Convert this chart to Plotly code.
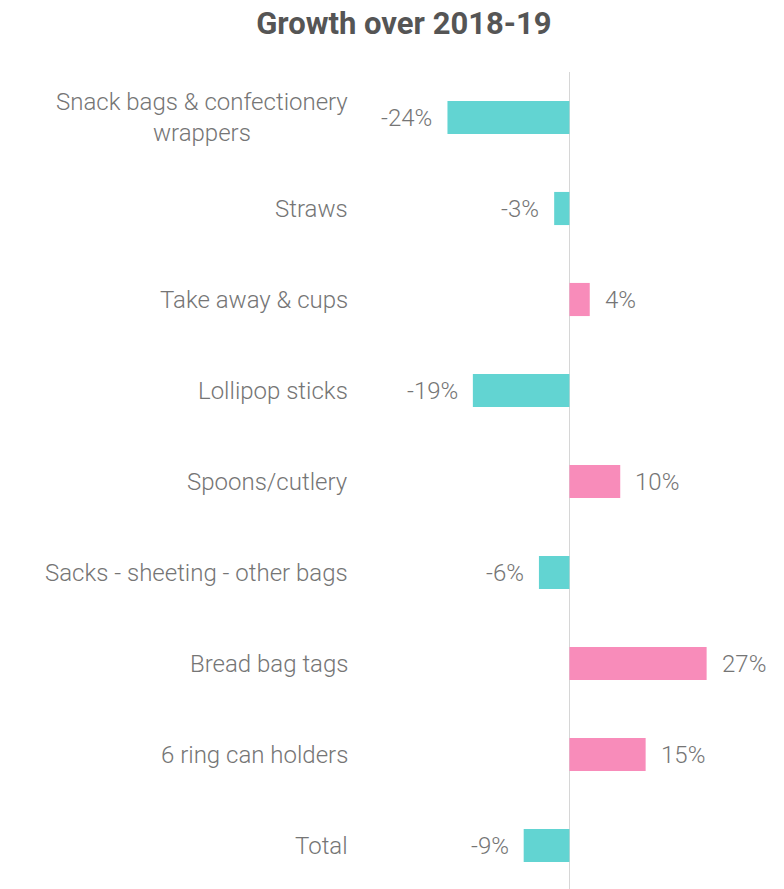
import plotly.graph_objects as go

# Categories top to bottom and their growth (%)
categories = [
    "Snack bags & confectionery<br>wrappers",
    "Straws",
    "Take away & cups",
    "Lollipop sticks",
    "Spoons/cutlery",
    "Sacks - sheeting - other bags",
    "Bread bag tags",
    "6 ring can holders",
    "Total",
]
growth = [-24, -3, 4, -19, 10, -6, 27, 15, -9]

teal = "#62d4d2"
pink = "#f88cba"
text_grey = "#757575"
font_family = "Roboto, 'Open Sans', sans-serif"

bar_colors = [pink if g > 0 else teal for g in growth]

fig = go.Figure(go.Bar(
    y=categories,
    x=growth,
    orientation="h",
    marker=dict(color=bar_colors, line=dict(width=0)),
    hoverinfo="skip",
))

label_font = dict(size=24, color=text_grey, family=font_family, weight=300)

# value labels just outside each bar
annotations = []
for cat, g in zip(categories, growth):
    annotations.append(dict(
        x=g, y=cat, xref="x", yref="y",
        text=f"{g}%",
        showarrow=False,
        xanchor="left" if g > 0 else "right",
        xshift=13 if g > 0 else -13,
        font=label_font,
    ))

# category labels, centred lines, right edge near the plot
for cat in categories:
    annotations.append(dict(
        x=0, y=cat, xref="paper", yref="y",
        text=cat,
        showarrow=False,
        xanchor="right",
        align="center",
        xshift=-7,
        font=label_font,
    ))

fig.update_layout(
    width=784,
    height=889,
    margin=dict(l=349, r=0, t=64, b=6),
    paper_bgcolor="white",
    plot_bgcolor="white",
    bargap=0.636,
    showlegend=False,
    title=dict(
        text="<b>Growth over 2018-19</b>",
        x=0.505, xanchor="center",
        y=1, yanchor="top",
        pad=dict(t=4),
        font=dict(size=31, color="#555555", family=font_family),
    ),
    xaxis=dict(
        range=[-41.8, 43.8],
        showgrid=False,
        showticklabels=False,
        zeroline=True,
        zerolinecolor="#d6d6d6",
        zerolinewidth=1,
        fixedrange=True,
    ),
    yaxis=dict(
        autorange="reversed",
        showticklabels=False,
        showgrid=False,
        zeroline=False,
        fixedrange=True,
    ),
    annotations=annotations,
)

fig.write_html("out.html")
